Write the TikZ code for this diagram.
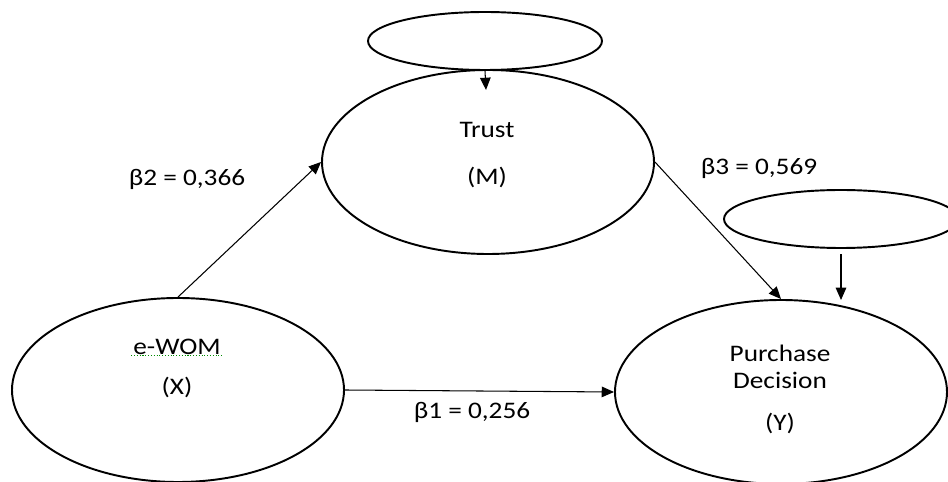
\documentclass[tikz,border=0pt]{standalone}
\usepackage{fontspec}
\setmainfont{Carlito}[FakeStretch=1.15]
\usepackage{tikz}
\usetikzlibrary{shapes.geometric, arrows.meta, positioning}

\begin{document}
\begin{tikzpicture}[>={Triangle[length=7pt,width=6pt]},
    bigvar/.style={ellipse, draw, line width=1.1pt, minimum width=6.64cm, minimum height=3.68cm, inner sep=0pt},
    errvar/.style={ellipse, draw, line width=1.1pt, minimum width=4.68cm, minimum height=1.16cm, inner sep=0pt},
    link/.style={->, line width=0.6pt},
    lbl/.style={font=\fontsize{13.5}{16}\selectfont, inner sep=1pt}]

    % =================================================================
    % 1. KHUNG HÌNH
    % =================================================================
    \useasboundingbox (0,0) rectangle (18.96,9.64);
    \clip (0,0) rectangle (18.96,9.64);

    % =================================================================
    % 2. CÁC BIẾN (HÌNH ELIP)
    % =================================================================
    \node[bigvar] (X) at (3.56,1.84) {};
    \node[bigvar] (M) at (9.76,6.40) {};
    \node[bigvar] (Y) at (15.62,1.80) {};

    % Hai elip sai số nhỏ
    \node[errvar] (E1) at (9.70,8.82) {};
    \node[errvar] (E2) at (16.82,5.26) {};

    % Đầu mũi tên tự do của hai elip sai số
    \coordinate (E1tip) at (9.72,7.84);
    \coordinate (E2tip) at (16.82,3.64);

    % =================================================================
    % 3. CÁC MŨI TÊN
    % =================================================================
    \draw[link] (X.north) -- (M.west);
    \draw[link] (M.east) -- (Y.north);
    \draw[link] (X.east) -- (Y.west);
    \draw[link] (E1.south) -- (E1tip);
    \draw[link] ([yshift=-3pt]E2.south) -- (E2tip);

    % =================================================================
    % 4. NHÃN
    % =================================================================
    % Tên các biến
    \node[lbl] (trust) at (9.74,7.04) {Trust};
    \node[lbl] (mlbl) at (9.74,6.10) {(M)};
    \node[lbl] (ewom) at (3.54,2.70) {e-WOM};
    \node[lbl] (xlbl) at (3.54,1.90) {(X)};
    \node[lbl] (purchase) at (15.60,2.58) {Purchase};
    \node[lbl] (decision) at (15.60,2.04) {Decision};
    \node[lbl] (ylbl) at (15.60,1.18) {(Y)};

    % Gạch chân chính tả dưới e-WOM
    \draw[green!55!black, densely dotted, line width=0.6pt]
        ([yshift=1pt]ewom.south west) -- ([yshift=1pt]ewom.south east);

    % Các hệ số đường dẫn
    \node[lbl] (b2) at (3.74,6.06) {β2 = 0,366};
    \node[lbl] (b3) at (15.18,6.28) {β3 = 0,569};
    \node[lbl] (b1) at (9.44,1.40) {β1 = 0,256};

\end{tikzpicture}
\end{document}
